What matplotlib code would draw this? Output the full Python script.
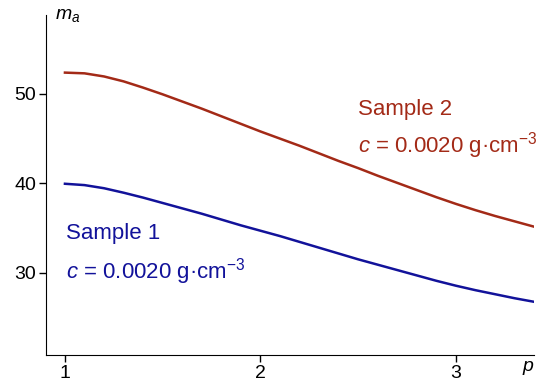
import numpy as np
import matplotlib
matplotlib.use("Agg")
from matplotlib import pyplot as plt

plt.rcParams['font.family'] = ['Liberation Sans', 'DejaVu Sans']
plt.rcParams['mathtext.fontset'] = 'custom'
plt.rcParams['mathtext.rm'] = 'Liberation Sans'
plt.rcParams['mathtext.it'] = 'Liberation Sans:italic'

# ---- data ----
p = [1.0, 1.1, 1.2, 1.3, 1.4, 1.5, 1.6, 1.7, 1.8, 1.9, 2.0, 2.1, 2.2,
     2.3, 2.4, 2.5, 2.6, 2.7, 2.8, 2.9, 3.0, 3.1, 3.2, 3.3, 3.4]
sample1 = [39.95, 39.8, 39.45, 38.95, 38.4, 37.8, 37.2, 36.6, 35.95, 35.3,
           34.7, 34.1, 33.45, 32.8, 32.15, 31.5, 30.9, 30.3, 29.7, 29.1,
           28.55, 28.05, 27.6, 27.15, 26.75]
sample2 = [52.38, 52.3, 51.95, 51.4, 50.7, 49.95, 49.15, 48.35, 47.5, 46.65,
           45.8, 45.0, 44.2, 43.35, 42.5, 41.7, 40.85, 40.05, 39.25, 38.45,
           37.7, 37.0, 36.35, 35.75, 35.15]
xticks = [1, 2, 3]
yticks = [30, 40, 50]

blue = "#12129a"
red = "#a32a17"

fig = plt.figure(figsize=(5.5, 3.87), dpi=100)
ax = fig.add_axes([0.0836, 0.0827, 0.8874, 0.878])

ax.plot(p, sample1, color=blue, lw=1.8)
ax.plot(p, sample2, color=red, lw=1.8)

ax.set_xlim(0.903, 3.40)
ax.set_ylim(20.8, 58.8)
ax.set_xticks(xticks)
ax.set_yticks(yticks)
ax.tick_params(direction='out', length=5, width=1, labelsize=14, pad=2)

ax.spines['top'].set_visible(False)
ax.spines['right'].set_visible(False)

# axis labels
ax.text(0.045, 1.0, r"$m_a$", transform=ax.transAxes, fontsize=14,
        ha='center', va='center')
ax.text(3.37, 20.8 - 1.5, r"$p$", fontsize=14, ha='center', va='center')

# curve annotations
ax.text(1.005, 34.4, "Sample 1", color=blue, fontsize=16, va='center')
ax.text(1.005, 30.1, r"$c$ = 0.0020 g·cm$^{-3}$", color=blue, fontsize=16, va='center')
ax.text(2.5, 48.2, "Sample 2", color=red, fontsize=16, va='center')
ax.text(2.5, 44.2, r"$c$ = 0.0020 g·cm$^{-3}$", color=red, fontsize=16, va='center')

plt.savefig("out.png")
